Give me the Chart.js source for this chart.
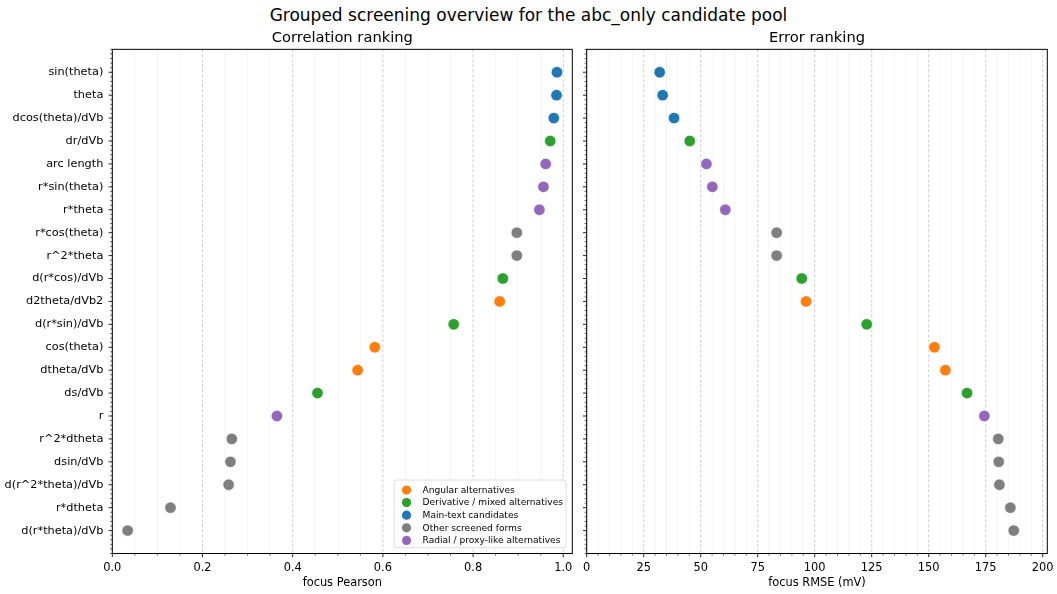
<!DOCTYPE html>
<html>
<head>
<meta charset="utf-8">
<script src="https://cdn.jsdelivr.net/npm/chart.js@4.4.1/dist/chart.umd.min.js"></script>
<style>
  body { margin: 0; background: #fff; width: 1057px; height: 594px; position: relative; overflow: hidden; font-family: "DejaVu Sans", sans-serif; }
  #suptitle { position: absolute; left: 0; top: 5px; width: 1057px; text-align: center; font-size: 17px; line-height: 20px; color: #000; }
  #left { position: absolute; left: 0; top: 0; }
  #right { position: absolute; left: 580px; top: 0; }
</style>
</head>
<body>
<div id="suptitle">Grouped screening overview for the abc_only candidate pool</div>
<canvas id="left" width="580" height="594"></canvas>
<canvas id="right" width="477" height="594"></canvas>
<script>
// data (top row first)
const categories = [
  "sin(theta)", "theta", "dcos(theta)/dVb", "dr/dVb", "arc length", "r*sin(theta)", "r*theta",
  "r*cos(theta)", "r^2*theta", "d(r*cos)/dVb", "d2theta/dVb2", "d(r*sin)/dVb", "cos(theta)",
  "dtheta/dVb", "ds/dVb", "r", "r^2*dtheta", "dsin/dVb", "d(r^2*theta)/dVb", "r*dtheta", "d(r*theta)/dVb"
]
const pearson = [
  0.986, 0.985, 0.979, 0.971, 0.961, 0.956, 0.947,
  0.897, 0.897, 0.866, 0.859, 0.757, 0.582,
  0.544, 0.455, 0.365, 0.265, 0.262, 0.258, 0.129, 0.034
]
const rmse = [
  32.0, 33.3, 38.3, 45.2, 52.5, 55.1, 60.8,
  83.3, 83.3, 94.3, 96.2, 122.8, 152.5,
  157.3, 166.8, 174.4, 180.5, 180.7, 181.0, 185.8, 187.3
]
// index into groupNames for each category
const groupOf = [2, 2, 2, 1, 4, 4, 4, 3, 3, 1, 0, 1, 0, 0, 1, 4, 3, 3, 3, 3, 3]
const groupNames = [
  "Angular alternatives", "Derivative / mixed alternatives", "Main-text candidates",
  "Other screened forms", "Radial / proxy-like alternatives"
]
const groupColors = ["#ff7f0e", "#2ca02c", "#1f77b4", "#7f7f7f", "#9467bd"]
const pearsonTicks = [0, 0.2, 0.4, 0.6, 0.8, 1.0]
const rmseTicks = [0, 25, 50, 75, 100, 125, 150, 175, 200]

Chart.defaults.font.family = "'DejaVu Sans', sans-serif"
Chart.defaults.color = "#000"

// grid lines, tick marks and the box around the plot (matplotlib look)
const axesDecor = {
  id: "axesDecor",
  beforeDatasetsDraw(chart, args, opts) {
    const { ctx, chartArea: a, scales: { x } } = chart
    ctx.save()
    ctx.lineWidth = 0.8
    ctx.strokeStyle = "rgba(0,0,0,0.055)"
    opts.xMinor.forEach((v) => {
      const px = x.getPixelForValue(v)
      ctx.beginPath(); ctx.moveTo(px, a.top); ctx.lineTo(px, a.bottom); ctx.stroke()
    })
    ctx.strokeStyle = "#c2c2c2"
    ctx.setLineDash([3, 2])
    opts.xMajor.forEach((v) => {
      const px = x.getPixelForValue(v)
      ctx.beginPath(); ctx.moveTo(px, a.top); ctx.lineTo(px, a.bottom); ctx.stroke()
    })
    ctx.restore()
  },
  afterDraw(chart, args, opts) {
    const { ctx, chartArea: a, scales: { x, y } } = chart
    ctx.save()
    ctx.strokeStyle = "#000"
    const tick = (x1, y1, x2, y2, w) => {
      ctx.lineWidth = w
      ctx.beginPath(); ctx.moveTo(x1, y1); ctx.lineTo(x2, y2); ctx.stroke()
    }
    opts.xMajor.forEach((v) => { const px = x.getPixelForValue(v); tick(px, a.bottom, px, a.bottom + 3.7, 0.85) })
    opts.xMinor.forEach((v) => { const px = x.getPixelForValue(v); tick(px, a.bottom, px, a.bottom + 2.1, 0.6) })
    for (let k = -5; k <= 105; k++) {
      const py = y.getPixelForValue(k / 5)
      if (k % 5 === 0 && k >= 0 && k <= 100) tick(a.left, py, a.left - 3.7, py, 0.85)
      else tick(a.left, py, a.left - 2.1, py, 0.6)
    }
    ctx.lineWidth = 1
    ctx.strokeRect(a.left, a.top, a.right - a.left, a.bottom - a.top)
    ctx.restore()
  }
}

// legend box inside the plot, lower right
const groupLegend = {
  id: "groupLegend",
  afterDraw(chart, args, opts) {
    if (!opts.show) return
    const { ctx, chartArea: a } = chart
    ctx.save()
    ctx.font = "9.1px 'DejaVu Sans'"
    const sets = chart.data.datasets
    const textW = Math.max(...sets.map((d) => ctx.measureText(d.label).width))
    const w = 28.3 + textW + 3
    const h = 67.7
    const left = a.right - 6.3 - w
    const top = a.bottom - 5.8 - h
    ctx.beginPath()
    ctx.roundRect(left, top, w, h, 2.5)
    ctx.fillStyle = "rgba(255,255,255,0.85)"
    ctx.fill()
    ctx.strokeStyle = "#d5d5d5"
    ctx.lineWidth = 0.8
    ctx.stroke()
    ctx.textBaseline = "middle"
    sets.forEach((d, i) => {
      const cy = top + 10 + i * 12.6
      ctx.beginPath()
      ctx.arc(left + 12.3, cy, 4.6, 0, Math.PI * 2)
      ctx.fillStyle = d.backgroundColor
      ctx.fill()
      ctx.fillStyle = "#000"
      ctx.fillText(d.label, left + 28.3, cy + 0.5)
    })
    ctx.restore()
  }
}

function buildDatasets(values) {
  return groupNames.map((g, gi) => ({
    label: g,
    data: categories.map((c, i) => ({ x: values[i], y: i })).filter((p, i) => groupOf[i] === gi),
    backgroundColor: groupColors[gi],
    borderColor: "#ffffff",
    borderWidth: 0.6,
    pointRadius: 5.7,
    pointHoverRadius: 5.7
  }))
}

function makeChart(el, cfg) {
  return new Chart(el, {
    type: "scatter",
    data: { datasets: buildDatasets(cfg.values) },
    options: {
      responsive: false,
      animation: false,
      events: [],
      layout: { padding: { left: 0, right: cfg.padRight, top: 0, bottom: 0 } },
      plugins: {
        legend: { display: false },
        tooltip: { enabled: false },
        title: {
          display: true, text: cfg.title, fullSize: false, color: "#000",
          font: { size: 14.7, weight: "normal" }, padding: { top: 29.5, bottom: 2.2 }
        },
        axesDecor: { xMajor: cfg.xMajor, xMinor: cfg.xMinor },
        groupLegend: { show: cfg.legend }
      },
      scales: {
        x: {
          type: "linear", min: 0, max: cfg.xMax,
          afterBuildTicks: (s) => { s.ticks = cfg.xMajor.map((v) => ({ value: v })) },
          // fixed height, and no extra side room for the edge labels
          afterFit: (s) => { s.height = 40.5; s.paddingLeft = 0; s.paddingRight = 0 },
          ticks: { callback: cfg.xFmt, autoSkip: false, maxRotation: 0, padding: 8, font: { size: 11.4 } },
          grid: { display: false, drawTicks: false },
          border: { display: false },
          title: { display: true, text: cfg.xTitle, font: { size: 11.4 }, padding: { top: 0, bottom: 4.5 } }
        },
        y: {
          type: "linear", min: -1, max: 21, reverse: true,
          afterBuildTicks: (s) => { s.ticks = categories.map((c, i) => ({ value: i })) },
          afterFit: (s) => { s.width = cfg.yWidth; s.paddingTop = 0; s.paddingBottom = 0 },
          ticks: { callback: (v) => (cfg.yLabels ? categories[v] : ""), autoSkip: false, padding: 9, font: { size: 11.3 } },
          grid: { display: false, drawTicks: false },
          border: { display: false }
        }
      }
    },
    plugins: [axesDecor, groupLegend]
  })
}

const pearsonMinor = []
for (let k = 1; k <= 20; k++) if (k % 4 !== 0) pearsonMinor.push(k * 0.05)
const rmseMinor = []
for (let k = 1; k <= 40; k++) if (k % 5 !== 0) rmseMinor.push(k * 5)

makeChart(document.getElementById("left"), {
  values: pearson, title: "Correlation ranking", xTitle: "focus Pearson",
  xMax: 1.02, xMajor: pearsonTicks, xMinor: pearsonMinor, xFmt: (v) => v.toFixed(1),
  yWidth: 112.3, padRight: 7.7, yLabels: true, legend: true
})
makeChart(document.getElementById("right"), {
  values: rmse, title: "Error ranking", xTitle: "focus RMSE (mV)",
  xMax: 202, xMajor: rmseTicks, xMinor: rmseMinor, xFmt: (v) => String(v),
  yWidth: 6.7, padRight: 9.7, yLabels: false, legend: false
})
</script>
</body>
</html>
